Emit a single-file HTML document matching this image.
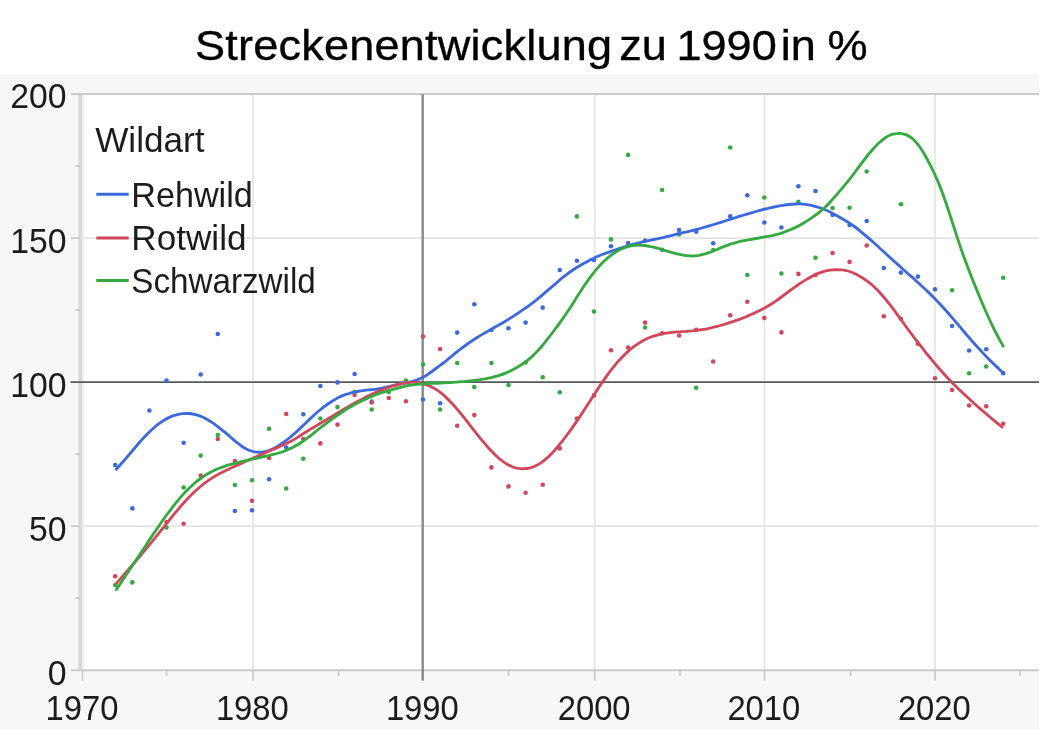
<!DOCTYPE html>
<html lang="de">
<head>
<meta charset="utf-8">
<title>Streckenentwicklung zu 1990 in %</title>
<style>
html,body{margin:0;padding:0;background:#fff;}
body{width:1056px;height:729px;overflow:hidden;position:relative;}
svg{display:block;position:absolute;left:0;top:0;}
.soft{filter:blur(0.55px);}
text{font-family:"Liberation Sans",sans-serif;fill:#1c1c1c;}
.ax{font-size:35.7px;}
.lg{font-size:35.7px;}
.ttl text{font-size:42.5px;fill:#000;stroke:#000;stroke-width:0.35px;}
</style>
</head>
<body>
<svg width="1056" height="729" viewBox="0 0 1056 729">
<rect x="0" y="0" width="1056" height="729" fill="#ffffff"/>
<rect x="0" y="74" width="1039" height="655" fill="#f7f7f7"/>
<rect x="82" y="94" width="957" height="576" fill="#ffffff"/>
<g class="ttl" transform="scale(1.0607,1)">
<text y="59.7"><tspan x="183.84" letter-spacing="0.2">Streckenentwicklung</tspan> <tspan x="583.77">zu</tspan> <tspan x="637.79">1990</tspan> <tspan x="736.12">in</tspan> <tspan x="780.15">%</tspan></text>
</g>
<g stroke="#e4e4e4" stroke-width="1.7" fill="none">
<line x1="253" y1="94" x2="253" y2="670"/><line x1="594.75" y1="94" x2="594.75" y2="670"/><line x1="764.5" y1="94" x2="764.5" y2="670"/><line x1="935" y1="94" x2="935" y2="670"/><line x1="82" y1="526.15" x2="1039" y2="526.15"/><line x1="82" y1="238.05" x2="1039" y2="238.05"/>
</g>
<rect x="78.3" y="93.2" width="3.9" height="577.6" fill="#dadada"/>
<rect x="82.2" y="94" width="1.6" height="576" fill="#ececec"/>
<g stroke="#cbcbcb" stroke-width="2" fill="none">
<line x1="71" y1="94.0" x2="1039" y2="94.0"/><line x1="71" y1="670.2" x2="1039" y2="670.2"/>
</g>
<g stroke="#c6c6c6" stroke-width="1.5" fill="none">
<line x1="71" y1="238.05" x2="80" y2="238.05"/><line x1="71" y1="526.15" x2="80" y2="526.15"/><line x1="75.5" y1="598.18" x2="80" y2="598.18"/><line x1="75.5" y1="454.13" x2="80" y2="454.13"/><line x1="75.5" y1="310.08" x2="80" y2="310.08"/><line x1="75.5" y1="166.02" x2="80" y2="166.02"/><line x1="82.5" y1="670.2" x2="82.5" y2="680.5"/><line x1="253" y1="670.2" x2="253" y2="680.5"/><line x1="423" y1="670.2" x2="423" y2="680.5"/><line x1="594.75" y1="670.2" x2="594.75" y2="680.5"/><line x1="764.5" y1="670.2" x2="764.5" y2="680.5"/><line x1="935" y1="670.2" x2="935" y2="680.5"/><line x1="166.5" y1="670.2" x2="166.5" y2="676"/><line x1="338.5" y1="670.2" x2="338.5" y2="676"/><line x1="508.5" y1="670.2" x2="508.5" y2="676"/><line x1="680" y1="670.2" x2="680" y2="676"/><line x1="850.5" y1="670.2" x2="850.5" y2="676"/><line x1="1020" y1="670.2" x2="1020" y2="676"/>
</g>
<line x1="422.7" y1="94" x2="422.7" y2="680.5" stroke="#8a8a8a" stroke-width="2.4"/>
<line x1="70.5" y1="382.10" x2="1039" y2="382.10" stroke="#585858" stroke-width="1.7"/>
<g class="soft">
<g fill="#3c6adc"><circle cx="115.2" cy="465.0" r="2.3"/><circle cx="132.3" cy="508.4" r="2.3"/><circle cx="149.4" cy="410.5" r="2.3"/><circle cx="166.5" cy="380.5" r="2.3"/><circle cx="183.6" cy="442.8" r="2.3"/><circle cx="200.7" cy="374.5" r="2.3"/><circle cx="217.8" cy="334.0" r="2.3"/><circle cx="234.9" cy="511.0" r="2.3"/><circle cx="252.0" cy="510.2" r="2.3"/><circle cx="269.1" cy="479.2" r="2.3"/><circle cx="286.2" cy="447.5" r="2.3"/><circle cx="303.3" cy="414.2" r="2.3"/><circle cx="320.4" cy="386.0" r="2.3"/><circle cx="337.5" cy="382.4" r="2.3"/><circle cx="354.6" cy="374.0" r="2.3"/><circle cx="371.7" cy="401.5" r="2.3"/><circle cx="423.0" cy="399.5" r="2.3"/><circle cx="440.1" cy="403.2" r="2.3"/><circle cx="457.2" cy="332.6" r="2.3"/><circle cx="474.3" cy="304.2" r="2.3"/><circle cx="491.4" cy="330.0" r="2.3"/><circle cx="508.5" cy="328.2" r="2.3"/><circle cx="525.6" cy="322.6" r="2.3"/><circle cx="542.7" cy="307.6" r="2.3"/><circle cx="559.8" cy="270.0" r="2.3"/><circle cx="576.9" cy="260.8" r="2.3"/><circle cx="594.0" cy="260.0" r="2.3"/><circle cx="611.0" cy="246.2" r="2.3"/><circle cx="628.1" cy="243.0" r="2.3"/><circle cx="645.1" cy="240.6" r="2.3"/><circle cx="662.1" cy="249.8" r="2.3"/><circle cx="679.1" cy="230.0" r="2.3"/><circle cx="696.2" cy="231.8" r="2.3"/><circle cx="713.2" cy="243.2" r="2.3"/><circle cx="730.2" cy="216.2" r="2.3"/><circle cx="747.3" cy="195.2" r="2.3"/><circle cx="764.3" cy="222.5" r="2.3"/><circle cx="781.4" cy="227.5" r="2.3"/><circle cx="798.4" cy="186.2" r="2.3"/><circle cx="815.5" cy="191.0" r="2.3"/><circle cx="832.6" cy="215.0" r="2.3"/><circle cx="849.6" cy="225.0" r="2.3"/><circle cx="866.7" cy="221.0" r="2.3"/><circle cx="883.8" cy="268.1" r="2.3"/><circle cx="900.9" cy="272.6" r="2.3"/><circle cx="917.9" cy="276.6" r="2.3"/><circle cx="935.0" cy="289.2" r="2.3"/><circle cx="952.1" cy="326.0" r="2.3"/><circle cx="969.1" cy="350.5" r="2.3"/><circle cx="986.2" cy="349.2" r="2.3"/><circle cx="1003.2" cy="373.2" r="2.3"/></g>
<g fill="#d2475c"><circle cx="115.2" cy="576.3" r="2.3"/><circle cx="166.5" cy="522.0" r="2.3"/><circle cx="183.6" cy="523.7" r="2.3"/><circle cx="200.7" cy="475.5" r="2.3"/><circle cx="217.8" cy="439.0" r="2.3"/><circle cx="234.9" cy="461.0" r="2.3"/><circle cx="252.0" cy="500.8" r="2.3"/><circle cx="269.1" cy="458.0" r="2.3"/><circle cx="286.2" cy="414.0" r="2.3"/><circle cx="303.3" cy="439.0" r="2.3"/><circle cx="320.4" cy="443.4" r="2.3"/><circle cx="337.5" cy="424.6" r="2.3"/><circle cx="354.6" cy="395.0" r="2.3"/><circle cx="371.7" cy="402.5" r="2.3"/><circle cx="388.8" cy="398.0" r="2.3"/><circle cx="405.9" cy="401.2" r="2.3"/><circle cx="423.0" cy="336.5" r="2.3"/><circle cx="440.1" cy="349.0" r="2.3"/><circle cx="457.2" cy="425.8" r="2.3"/><circle cx="474.3" cy="415.1" r="2.3"/><circle cx="491.4" cy="467.4" r="2.3"/><circle cx="508.5" cy="486.4" r="2.3"/><circle cx="525.6" cy="492.7" r="2.3"/><circle cx="542.7" cy="484.7" r="2.3"/><circle cx="559.8" cy="448.4" r="2.3"/><circle cx="576.9" cy="418.5" r="2.3"/><circle cx="594.0" cy="395.4" r="2.3"/><circle cx="611.0" cy="350.2" r="2.3"/><circle cx="628.1" cy="347.5" r="2.3"/><circle cx="645.1" cy="322.6" r="2.3"/><circle cx="662.1" cy="333.2" r="2.3"/><circle cx="679.1" cy="335.5" r="2.3"/><circle cx="696.2" cy="329.8" r="2.3"/><circle cx="713.2" cy="361.5" r="2.3"/><circle cx="730.2" cy="315.2" r="2.3"/><circle cx="747.3" cy="301.8" r="2.3"/><circle cx="764.3" cy="318.0" r="2.3"/><circle cx="781.4" cy="332.4" r="2.3"/><circle cx="798.4" cy="273.9" r="2.3"/><circle cx="815.5" cy="275.0" r="2.3"/><circle cx="832.6" cy="253.0" r="2.3"/><circle cx="849.6" cy="261.9" r="2.3"/><circle cx="866.7" cy="245.5" r="2.3"/><circle cx="883.8" cy="316.2" r="2.3"/><circle cx="900.9" cy="318.8" r="2.3"/><circle cx="917.9" cy="343.8" r="2.3"/><circle cx="935.0" cy="378.2" r="2.3"/><circle cx="952.1" cy="390.0" r="2.3"/><circle cx="969.1" cy="405.5" r="2.3"/><circle cx="986.2" cy="406.2" r="2.3"/><circle cx="1003.2" cy="423.8" r="2.3"/></g>
<g fill="#36aa41"><circle cx="115.2" cy="585.1" r="2.3"/><circle cx="132.3" cy="582.4" r="2.3"/><circle cx="166.5" cy="527.6" r="2.3"/><circle cx="183.6" cy="487.5" r="2.3"/><circle cx="200.7" cy="455.6" r="2.3"/><circle cx="217.8" cy="435.1" r="2.3"/><circle cx="234.9" cy="485.0" r="2.3"/><circle cx="252.0" cy="480.2" r="2.3"/><circle cx="269.1" cy="428.8" r="2.3"/><circle cx="286.2" cy="488.5" r="2.3"/><circle cx="303.3" cy="458.8" r="2.3"/><circle cx="320.4" cy="418.5" r="2.3"/><circle cx="337.5" cy="407.1" r="2.3"/><circle cx="354.6" cy="392.0" r="2.3"/><circle cx="371.7" cy="409.5" r="2.3"/><circle cx="388.8" cy="392.0" r="2.3"/><circle cx="405.9" cy="380.5" r="2.3"/><circle cx="423.0" cy="364.5" r="2.3"/><circle cx="440.1" cy="409.5" r="2.3"/><circle cx="457.2" cy="363.0" r="2.3"/><circle cx="474.3" cy="387.0" r="2.3"/><circle cx="491.4" cy="363.0" r="2.3"/><circle cx="508.5" cy="385.0" r="2.3"/><circle cx="525.6" cy="362.5" r="2.3"/><circle cx="542.7" cy="377.2" r="2.3"/><circle cx="559.8" cy="392.2" r="2.3"/><circle cx="576.9" cy="216.4" r="2.3"/><circle cx="594.0" cy="311.5" r="2.3"/><circle cx="611.0" cy="239.4" r="2.3"/><circle cx="628.1" cy="154.9" r="2.3"/><circle cx="645.1" cy="327.5" r="2.3"/><circle cx="662.1" cy="190.0" r="2.3"/><circle cx="679.1" cy="234.4" r="2.3"/><circle cx="696.2" cy="387.8" r="2.3"/><circle cx="713.2" cy="250.0" r="2.3"/><circle cx="730.2" cy="147.5" r="2.3"/><circle cx="747.3" cy="275.0" r="2.3"/><circle cx="764.3" cy="197.5" r="2.3"/><circle cx="781.4" cy="273.5" r="2.3"/><circle cx="798.4" cy="201.8" r="2.3"/><circle cx="815.5" cy="257.8" r="2.3"/><circle cx="832.6" cy="208.0" r="2.3"/><circle cx="849.6" cy="207.8" r="2.3"/><circle cx="866.7" cy="171.5" r="2.3"/><circle cx="900.9" cy="204.2" r="2.3"/><circle cx="952.1" cy="290.2" r="2.3"/><circle cx="969.1" cy="373.2" r="2.3"/><circle cx="986.2" cy="366.5" r="2.3"/><circle cx="1003.2" cy="277.8" r="2.3"/></g>
<path d="M116.3 469.2C117.3 468.1 120.3 464.8 122.3 462.5C124.3 460.2 126.3 458.0 128.3 455.6C130.3 453.3 132.3 450.9 134.3 448.5C136.3 446.1 138.3 443.7 140.3 441.5C142.3 439.2 144.3 437.0 146.3 434.9C148.3 432.9 150.3 431.0 152.3 429.2C154.3 427.4 156.3 425.7 158.3 424.2C160.3 422.7 162.3 421.3 164.4 420.0C166.4 418.8 168.4 417.8 170.4 416.9C172.4 416.1 174.4 415.4 176.4 414.9C178.4 414.3 180.4 413.9 182.4 413.7C184.4 413.5 186.4 413.4 188.4 413.5C190.4 413.6 192.4 413.9 194.4 414.3C196.4 414.8 198.4 415.4 200.4 416.1C202.4 416.9 204.4 417.8 206.4 418.9C208.4 420.0 210.4 421.3 212.4 422.6C214.4 424.0 216.4 425.5 218.4 427.1C220.4 428.6 222.4 430.2 224.4 431.8C226.4 433.5 228.4 435.3 230.4 437.0C232.4 438.7 234.4 440.6 236.4 442.2C238.4 443.8 240.4 445.4 242.4 446.7C244.4 448.0 246.4 449.1 248.4 450.0C250.4 450.8 252.4 451.4 254.4 451.8C256.5 452.2 258.5 452.3 260.5 452.2C262.5 452.1 264.5 451.8 266.5 451.3C268.5 450.8 270.5 450.0 272.5 449.0C274.5 448.1 276.5 446.9 278.5 445.7C280.5 444.5 282.5 443.1 284.5 441.7C286.5 440.2 288.5 438.6 290.5 437.0C292.5 435.3 294.5 433.5 296.5 431.7C298.5 429.9 300.5 428.0 302.5 426.1C304.5 424.2 306.5 422.3 308.5 420.4C310.5 418.5 312.5 416.5 314.5 414.7C316.5 412.9 318.5 411.1 320.5 409.5C322.5 407.9 324.5 406.4 326.5 405.0C328.5 403.5 330.5 402.2 332.5 401.0C334.5 399.8 336.5 398.6 338.5 397.6C340.5 396.6 342.5 395.7 344.5 394.9C346.5 394.2 348.5 393.6 350.6 393.0C352.6 392.5 354.6 392.0 356.6 391.6C358.6 391.3 360.6 390.9 362.6 390.7C364.6 390.4 366.6 390.1 368.6 389.9C370.6 389.7 372.6 389.6 374.6 389.3C376.6 389.1 378.6 388.9 380.6 388.5C382.6 388.1 384.6 387.6 386.6 387.1C388.6 386.7 390.6 386.1 392.6 385.6C394.6 385.2 396.6 384.8 398.6 384.4C400.6 384.0 402.6 383.6 404.6 383.2C406.6 382.7 408.6 382.3 410.6 381.8C412.6 381.3 414.6 380.8 416.6 380.1C418.6 379.4 420.6 378.6 422.6 377.6C424.6 376.5 426.6 375.2 428.6 373.8C430.6 372.5 432.6 371.0 434.6 369.5C436.6 368.0 438.6 366.6 440.6 365.0C442.6 363.5 444.7 361.9 446.7 360.3C448.7 358.6 450.7 356.9 452.7 355.3C454.7 353.6 456.7 352.0 458.7 350.5C460.7 348.9 462.7 347.4 464.7 346.0C466.7 344.5 468.7 343.1 470.7 341.8C472.7 340.4 474.7 339.1 476.7 337.8C478.7 336.5 480.7 335.3 482.7 334.1C484.7 332.9 486.7 331.8 488.7 330.7C490.7 329.5 492.7 328.5 494.7 327.3C496.7 326.2 498.7 325.1 500.7 324.0C502.7 322.8 504.7 321.6 506.7 320.4C508.7 319.2 510.7 317.9 512.7 316.6C514.7 315.3 516.7 314.0 518.7 312.7C520.7 311.3 522.7 310.0 524.7 308.6C526.7 307.2 528.7 305.9 530.7 304.4C532.7 302.9 534.7 301.3 536.8 299.6C538.8 298.0 540.8 296.3 542.8 294.6C544.8 292.8 546.8 291.1 548.8 289.4C550.8 287.7 552.8 286.0 554.8 284.3C556.8 282.6 558.8 280.8 560.8 279.1C562.8 277.5 564.8 275.8 566.8 274.3C568.8 272.8 570.8 271.4 572.8 270.0C574.8 268.7 576.8 267.4 578.8 266.2C580.8 265.0 582.8 263.8 584.8 262.7C586.8 261.7 588.8 260.6 590.8 259.6C592.8 258.7 594.8 257.7 596.8 256.8C598.8 256.0 600.8 255.1 602.8 254.3C604.8 253.5 606.8 252.8 608.8 252.1C610.8 251.4 612.8 250.7 614.8 250.1C616.8 249.4 618.8 248.7 620.8 248.1C622.8 247.5 624.8 246.8 626.8 246.2C628.8 245.6 630.9 245.0 632.9 244.4C634.9 243.9 636.9 243.3 638.9 242.8C640.9 242.3 642.9 241.8 644.9 241.4C646.9 240.9 648.9 240.5 650.9 240.1C652.9 239.7 654.9 239.3 656.9 238.9C658.9 238.5 660.9 238.1 662.9 237.7C664.9 237.2 666.9 236.7 668.9 236.2C670.9 235.7 672.9 235.2 674.9 234.6C676.9 234.1 678.9 233.6 680.9 233.1C682.9 232.7 684.9 232.2 686.9 231.8C688.9 231.3 690.9 230.8 692.9 230.3C694.9 229.9 696.9 229.3 698.9 228.8C700.9 228.3 702.9 227.7 704.9 227.2C706.9 226.6 708.9 226.0 710.9 225.4C712.9 224.8 714.9 224.2 716.9 223.5C718.9 222.9 720.9 222.2 722.9 221.6C725.0 221.0 727.0 220.3 729.0 219.7C731.0 219.0 733.0 218.4 735.0 217.8C737.0 217.1 739.0 216.5 741.0 215.9C743.0 215.3 745.0 214.7 747.0 214.1C749.0 213.5 751.0 212.9 753.0 212.4C755.0 211.8 757.0 211.2 759.0 210.6C761.0 210.1 763.0 209.5 765.0 209.0C767.0 208.5 769.0 208.1 771.0 207.6C773.0 207.2 775.0 206.8 777.0 206.4C779.0 206.0 781.0 205.7 783.0 205.4C785.0 205.0 787.0 204.8 789.0 204.5C791.0 204.3 793.0 204.1 795.0 204.0C797.0 203.9 799.0 203.8 801.0 203.9C803.0 204.0 805.0 204.3 807.0 204.6C809.0 204.9 811.0 205.3 813.0 205.8C815.0 206.3 817.1 206.9 819.1 207.5C821.1 208.2 823.1 208.8 825.1 209.7C827.1 210.5 829.1 211.4 831.1 212.5C833.1 213.5 835.1 214.7 837.1 215.8C839.1 216.9 841.1 218.1 843.1 219.3C845.1 220.4 847.1 221.6 849.1 222.9C851.1 224.2 853.1 225.5 855.1 227.0C857.1 228.5 859.1 230.1 861.1 231.8C863.1 233.4 865.1 235.1 867.1 236.8C869.1 238.5 871.1 240.3 873.1 242.0C875.1 243.8 877.1 245.7 879.1 247.5C881.1 249.3 883.1 251.2 885.1 253.0C887.1 254.9 889.1 256.7 891.1 258.5C893.1 260.3 895.1 262.1 897.1 263.9C899.1 265.7 901.1 267.5 903.1 269.3C905.1 271.1 907.1 272.9 909.1 274.7C911.2 276.4 913.2 278.2 915.2 280.0C917.2 281.8 919.2 283.7 921.2 285.5C923.2 287.4 925.2 289.2 927.2 291.1C929.2 293.0 931.2 295.0 933.2 297.0C935.2 299.0 937.2 301.1 939.2 303.2C941.2 305.4 943.2 307.6 945.2 309.8C947.2 312.0 949.2 314.3 951.2 316.6C953.2 318.9 955.2 321.2 957.2 323.6C959.2 325.9 961.2 328.4 963.2 330.7C965.2 333.1 967.2 335.4 969.2 337.7C971.2 340.0 973.2 342.3 975.2 344.5C977.2 346.8 979.2 349.0 981.2 351.1C983.2 353.3 985.2 355.4 987.2 357.4C989.2 359.5 991.2 361.5 993.2 363.4C995.2 365.4 997.6 367.6 999.2 369.2C1000.9 370.8 1002.6 372.4 1003.2 373.0" fill="none" stroke="#3c6adc" stroke-width="2.85" stroke-linecap="round" stroke-linejoin="round"/>
<path d="M116.5 583.2C117.5 582.1 120.5 578.6 122.5 576.4C124.5 574.1 126.5 571.8 128.5 569.5C130.5 567.2 132.5 564.9 134.5 562.5C136.5 560.2 138.5 557.9 140.5 555.5C142.5 553.1 144.5 550.7 146.5 548.3C148.5 545.9 150.5 543.5 152.5 541.1C154.5 538.6 156.5 536.2 158.5 533.7C160.5 531.2 162.5 528.7 164.5 526.2C166.5 523.7 168.5 521.1 170.5 518.6C172.5 516.2 174.5 513.7 176.5 511.3C178.5 508.9 180.5 506.5 182.5 504.3C184.5 502.0 186.5 499.8 188.5 497.8C190.5 495.7 192.5 493.7 194.5 491.8C196.5 489.9 198.5 488.2 200.5 486.5C202.5 484.9 204.5 483.3 206.4 481.9C208.4 480.4 210.4 479.1 212.4 477.9C214.4 476.6 216.4 475.4 218.4 474.3C220.4 473.2 222.4 472.2 224.4 471.2C226.4 470.2 228.4 469.2 230.4 468.3C232.4 467.3 234.4 466.5 236.4 465.6C238.4 464.7 240.4 463.8 242.4 462.9C244.4 462.0 246.4 461.1 248.4 460.3C250.4 459.4 252.4 458.5 254.4 457.6C256.4 456.7 258.4 455.8 260.4 454.9C262.4 454.1 264.4 453.2 266.4 452.3C268.4 451.4 270.4 450.5 272.4 449.7C274.4 448.8 276.4 448.0 278.4 447.1C280.4 446.2 282.4 445.4 284.4 444.5C286.4 443.6 288.4 442.7 290.4 441.6C292.4 440.5 294.4 439.3 296.4 438.1C298.4 436.8 300.4 435.5 302.4 434.2C304.4 432.9 306.4 431.7 308.4 430.5C310.4 429.2 312.4 428.1 314.4 426.9C316.4 425.7 318.4 424.5 320.4 423.3C322.4 422.1 324.4 420.9 326.4 419.7C328.4 418.5 330.4 417.3 332.4 416.1C334.4 414.9 336.4 413.7 338.4 412.5C340.4 411.3 342.4 410.1 344.4 408.9C346.4 407.7 348.4 406.5 350.4 405.4C352.4 404.3 354.4 403.1 356.4 402.0C358.4 400.9 360.4 399.9 362.4 398.9C364.4 397.8 366.4 396.8 368.4 395.9C370.4 394.9 372.4 394.0 374.4 393.1C376.4 392.2 378.4 391.3 380.4 390.5C382.3 389.7 384.3 388.9 386.3 388.1C388.3 387.4 390.3 386.7 392.3 386.1C394.3 385.5 396.3 385.0 398.3 384.5C400.3 384.0 402.3 383.6 404.3 383.2C406.3 382.9 408.3 382.4 410.3 382.3C412.3 382.1 414.3 382.1 416.3 382.3C418.3 382.5 420.3 382.9 422.3 383.5C424.3 384.0 426.3 384.7 428.3 385.5C430.3 386.3 432.3 387.3 434.3 388.4C436.3 389.6 438.3 390.9 440.3 392.4C442.3 393.9 444.3 395.7 446.3 397.6C448.3 399.4 450.3 401.6 452.3 403.7C454.3 405.9 456.3 408.2 458.3 410.6C460.3 412.9 462.3 415.4 464.3 417.9C466.3 420.5 468.3 423.1 470.3 425.7C472.3 428.3 474.3 430.8 476.3 433.3C478.3 435.8 480.3 438.3 482.3 440.7C484.3 443.1 486.3 445.5 488.3 447.7C490.3 449.9 492.3 452.0 494.3 454.0C496.3 456.0 498.3 457.9 500.3 459.5C502.3 461.1 504.3 462.6 506.3 463.8C508.3 465.0 510.3 466.0 512.3 466.8C514.3 467.5 516.3 468.1 518.3 468.4C520.3 468.7 522.3 468.8 524.3 468.7C526.3 468.6 528.3 468.3 530.3 467.8C532.3 467.3 534.3 466.5 536.3 465.5C538.3 464.5 540.3 463.3 542.3 461.9C544.3 460.4 546.3 458.7 548.3 456.9C550.3 455.0 552.3 453.0 554.3 450.8C556.3 448.6 558.3 446.2 560.2 443.7C562.2 441.3 564.2 438.7 566.2 436.0C568.2 433.3 570.2 430.6 572.2 427.8C574.2 425.0 576.2 422.1 578.2 419.1C580.2 416.2 582.2 413.2 584.2 410.1C586.2 407.0 588.2 403.9 590.2 400.8C592.2 397.7 594.2 394.6 596.2 391.5C598.2 388.4 600.2 385.4 602.2 382.4C604.2 379.5 606.2 376.6 608.2 373.9C610.2 371.1 612.2 368.5 614.2 366.1C616.2 363.6 618.2 361.3 620.2 359.2C622.2 357.0 624.2 354.9 626.2 353.1C628.2 351.2 630.2 349.4 632.2 347.9C634.2 346.3 636.2 344.9 638.2 343.6C640.2 342.3 642.2 341.1 644.2 340.0C646.2 339.0 648.2 338.1 650.2 337.3C652.2 336.5 654.2 335.9 656.2 335.3C658.2 334.7 660.2 334.3 662.2 333.8C664.2 333.4 666.2 333.1 668.2 332.8C670.2 332.5 672.2 332.4 674.2 332.2C676.2 332.0 678.2 331.8 680.2 331.7C682.2 331.5 684.2 331.4 686.2 331.3C688.2 331.1 690.2 331.0 692.2 330.9C694.2 330.7 696.2 330.5 698.2 330.2C700.2 329.9 702.2 329.6 704.2 329.3C706.2 329.0 708.2 328.6 710.2 328.1C712.2 327.7 714.2 327.2 716.2 326.7C718.2 326.2 720.2 325.6 722.2 325.0C724.2 324.4 726.2 323.8 728.2 323.2C730.2 322.5 732.2 321.9 734.2 321.2C736.2 320.5 738.1 319.8 740.1 319.1C742.1 318.3 744.1 317.6 746.1 316.8C748.1 315.9 750.1 315.1 752.1 314.1C754.1 313.2 756.1 312.3 758.1 311.3C760.1 310.3 762.1 309.2 764.1 308.2C766.1 307.1 768.1 306.0 770.1 304.8C772.1 303.6 774.1 302.2 776.1 300.9C778.1 299.5 780.1 298.0 782.1 296.5C784.1 295.0 786.1 293.5 788.1 292.0C790.1 290.5 792.1 289.0 794.1 287.6C796.1 286.2 798.1 284.8 800.1 283.4C802.1 282.1 804.1 280.8 806.1 279.6C808.1 278.4 810.1 277.3 812.1 276.2C814.1 275.2 816.1 274.2 818.1 273.4C820.1 272.6 822.1 271.9 824.1 271.3C826.1 270.8 828.1 270.4 830.1 270.1C832.1 269.8 834.1 269.7 836.1 269.6C838.1 269.6 840.1 269.6 842.1 269.8C844.1 270.0 846.1 270.4 848.1 271.0C850.1 271.6 852.1 272.4 854.1 273.3C856.1 274.3 858.1 275.4 860.1 276.6C862.1 277.7 864.1 279.0 866.1 280.4C868.1 281.8 870.1 283.3 872.1 285.0C874.1 286.8 876.1 288.7 878.1 290.8C880.1 292.9 882.1 295.2 884.1 297.5C886.1 299.9 888.1 302.3 890.1 304.9C892.1 307.4 894.1 310.1 896.1 312.8C898.1 315.6 900.1 318.5 902.1 321.2C904.1 324.0 906.1 326.8 908.1 329.5C910.1 332.1 912.1 334.8 914.0 337.4C916.0 340.0 918.0 342.6 920.0 345.1C922.0 347.7 924.0 350.2 926.0 352.8C928.0 355.3 930.0 357.7 932.0 360.2C934.0 362.6 936.0 364.9 938.0 367.2C940.0 369.5 942.0 371.8 944.0 374.0C946.0 376.2 948.0 378.3 950.0 380.4C952.0 382.5 954.0 384.5 956.0 386.5C958.0 388.5 960.0 390.4 962.0 392.3C964.0 394.2 966.0 396.0 968.0 397.8C970.0 399.7 972.0 401.5 974.0 403.3C976.0 405.1 978.0 406.8 980.0 408.6C982.0 410.3 984.0 412.0 986.0 413.7C988.0 415.4 990.0 417.1 992.0 418.8C994.0 420.4 996.3 422.3 998.0 423.7C999.7 425.1 1001.3 426.5 1002.0 427.0" fill="none" stroke="#d2475c" stroke-width="2.85" stroke-linecap="round" stroke-linejoin="round"/>
<path d="M116.4 589.5C117.4 588.0 120.4 583.5 122.4 580.4C124.4 577.4 126.4 574.5 128.4 571.5C130.4 568.5 132.4 565.5 134.4 562.5C136.4 559.5 138.4 556.5 140.4 553.5C142.4 550.5 144.4 547.5 146.4 544.5C148.4 541.4 150.4 538.4 152.4 535.4C154.4 532.5 156.4 529.5 158.4 526.6C160.4 523.7 162.4 520.8 164.4 518.0C166.4 515.2 168.4 512.4 170.5 509.8C172.5 507.1 174.5 504.5 176.5 502.1C178.5 499.6 180.5 497.3 182.5 495.1C184.5 492.8 186.5 490.7 188.5 488.8C190.5 486.8 192.5 485.0 194.5 483.2C196.5 481.5 198.5 480.0 200.5 478.5C202.5 477.1 204.5 475.7 206.5 474.5C208.5 473.3 210.5 472.2 212.5 471.2C214.5 470.2 216.5 469.3 218.5 468.5C220.5 467.7 222.5 467.0 224.5 466.3C226.5 465.6 228.5 465.0 230.5 464.4C232.5 463.9 234.5 463.3 236.5 462.8C238.5 462.3 240.5 461.9 242.5 461.4C244.5 460.9 246.5 460.5 248.5 460.0C250.5 459.6 252.5 459.1 254.5 458.7C256.5 458.2 258.5 457.8 260.5 457.3C262.5 456.9 264.5 456.5 266.5 456.0C268.5 455.5 270.5 455.1 272.5 454.6C274.6 454.1 276.6 453.6 278.6 453.0C280.6 452.4 282.6 451.8 284.6 451.0C286.6 450.2 288.6 449.3 290.6 448.4C292.6 447.4 294.6 446.4 296.6 445.2C298.6 444.1 300.6 442.9 302.6 441.5C304.6 440.2 306.6 438.7 308.6 437.2C310.6 435.7 312.6 434.0 314.6 432.4C316.6 430.8 318.6 429.2 320.6 427.6C322.6 426.1 324.6 424.6 326.6 423.1C328.6 421.6 330.6 420.2 332.6 418.7C334.6 417.3 336.6 415.9 338.6 414.5C340.6 413.2 342.6 411.9 344.6 410.6C346.6 409.3 348.6 408.1 350.6 406.9C352.6 405.8 354.6 404.6 356.6 403.6C358.6 402.5 360.6 401.4 362.6 400.5C364.6 399.5 366.6 398.5 368.6 397.6C370.6 396.8 372.6 395.9 374.6 395.1C376.6 394.3 378.7 393.6 380.7 392.9C382.7 392.3 384.7 391.6 386.7 391.1C388.7 390.5 390.7 389.9 392.7 389.4C394.7 388.8 396.7 388.3 398.7 387.8C400.7 387.3 402.7 386.8 404.7 386.3C406.7 385.9 408.7 385.4 410.7 385.1C412.7 384.7 414.7 384.5 416.7 384.3C418.7 384.1 420.7 383.9 422.7 383.8C424.7 383.7 426.7 383.6 428.7 383.5C430.7 383.4 432.7 383.3 434.7 383.2C436.7 383.2 438.7 383.1 440.7 383.0C442.7 382.9 444.7 382.8 446.7 382.7C448.7 382.6 450.7 382.5 452.7 382.3C454.7 382.2 456.7 382.1 458.7 381.9C460.7 381.8 462.7 381.6 464.7 381.5C466.7 381.3 468.7 381.1 470.7 380.9C472.7 380.7 474.7 380.5 476.7 380.2C478.7 379.9 480.7 379.6 482.8 379.2C484.8 378.9 486.8 378.5 488.8 378.1C490.8 377.7 492.8 377.3 494.8 376.7C496.8 376.2 498.8 375.6 500.8 374.9C502.8 374.2 504.8 373.4 506.8 372.6C508.8 371.7 510.8 370.7 512.8 369.7C514.8 368.6 516.8 367.5 518.8 366.3C520.8 365.1 522.8 363.8 524.8 362.3C526.8 360.9 528.8 359.3 530.8 357.6C532.8 355.8 534.8 353.9 536.8 351.8C538.8 349.7 540.8 347.4 542.8 345.0C544.8 342.6 546.8 340.0 548.8 337.4C550.8 334.9 552.8 332.2 554.8 329.5C556.8 326.8 558.8 324.1 560.8 321.3C562.8 318.5 564.8 315.7 566.8 312.7C568.8 309.8 570.8 306.8 572.8 303.7C574.8 300.5 576.8 297.2 578.8 294.1C580.8 291.0 582.8 287.8 584.8 284.8C586.9 281.9 588.9 279.1 590.9 276.4C592.9 273.8 594.9 271.2 596.9 268.9C598.9 266.5 600.9 264.3 602.9 262.3C604.9 260.4 606.9 258.6 608.9 256.9C610.9 255.3 612.9 253.8 614.9 252.5C616.9 251.2 618.9 250.1 620.9 249.1C622.9 248.2 624.9 247.4 626.9 246.8C628.9 246.2 630.9 245.8 632.9 245.5C634.9 245.2 636.9 245.1 638.9 245.1C640.9 245.1 642.9 245.3 644.9 245.5C646.9 245.8 648.9 246.2 650.9 246.6C652.9 247.0 654.9 247.5 656.9 248.0C658.9 248.6 660.9 249.2 662.9 249.8C664.9 250.4 666.9 251.0 668.9 251.6C670.9 252.2 672.9 252.8 674.9 253.3C676.9 253.8 678.9 254.3 680.9 254.7C682.9 255.1 684.9 255.5 686.9 255.7C688.9 255.9 691.0 256.1 693.0 256.0C695.0 256.0 697.0 255.7 699.0 255.4C701.0 255.0 703.0 254.5 705.0 253.9C707.0 253.3 709.0 252.6 711.0 251.9C713.0 251.1 715.0 250.3 717.0 249.5C719.0 248.6 721.0 247.7 723.0 246.9C725.0 246.1 727.0 245.3 729.0 244.6C731.0 243.9 733.0 243.3 735.0 242.8C737.0 242.2 739.0 241.7 741.0 241.2C743.0 240.8 745.0 240.4 747.0 240.1C749.0 239.7 751.0 239.4 753.0 239.0C755.0 238.7 757.0 238.3 759.0 238.0C761.0 237.6 763.0 237.3 765.0 236.9C767.0 236.5 769.0 236.2 771.0 235.8C773.0 235.4 775.0 235.0 777.0 234.4C779.0 233.9 781.0 233.3 783.0 232.6C785.0 231.9 787.0 231.2 789.0 230.3C791.0 229.5 793.0 228.6 795.1 227.6C797.1 226.7 799.1 225.6 801.1 224.5C803.1 223.4 805.1 222.2 807.1 220.9C809.1 219.7 811.1 218.3 813.1 216.9C815.1 215.5 817.1 214.0 819.1 212.4C821.1 210.7 823.1 209.0 825.1 207.2C827.1 205.3 829.1 203.2 831.1 201.0C833.1 198.8 835.1 196.4 837.1 194.1C839.1 191.7 841.1 189.4 843.1 187.0C845.1 184.6 847.1 182.3 849.1 179.8C851.1 177.3 853.1 174.7 855.1 172.0C857.1 169.4 859.1 166.5 861.1 163.9C863.1 161.2 865.1 158.5 867.1 156.0C869.1 153.5 871.1 151.2 873.1 149.0C875.1 146.8 877.1 144.7 879.1 142.8C881.1 141.0 883.1 139.2 885.1 137.8C887.1 136.5 889.1 135.5 891.1 134.7C893.1 134.0 895.1 133.6 897.1 133.5C899.2 133.3 901.2 133.4 903.2 133.8C905.2 134.3 907.2 135.0 909.2 136.2C911.2 137.4 913.2 139.0 915.2 141.2C917.2 143.3 919.2 146.0 921.2 149.0C923.2 152.0 925.2 155.5 927.2 159.2C929.2 162.9 931.2 166.8 933.2 171.0C935.2 175.2 937.2 179.6 939.2 184.6C941.2 189.5 943.2 195.0 945.2 200.7C947.2 206.4 949.2 212.6 951.2 218.7C953.2 224.8 955.2 231.3 957.2 237.4C959.2 243.4 961.2 249.4 963.2 255.0C965.2 260.6 967.2 265.7 969.2 270.9C971.2 276.1 973.2 281.1 975.2 286.1C977.2 291.1 979.2 296.0 981.2 300.8C983.2 305.5 985.2 310.1 987.2 314.5C989.2 319.0 991.2 323.2 993.2 327.3C995.2 331.4 997.6 335.8 999.2 339.0C1000.9 342.1 1002.6 345.0 1003.2 346.2" fill="none" stroke="#36aa41" stroke-width="2.85" stroke-linecap="round" stroke-linejoin="round"/>
</g>
<text class="ax" x="47.8" y="684.6" textLength="18.8" lengthAdjust="spacingAndGlyphs">0</text>
<text class="ax" x="29.1" y="540.6" textLength="37.5" lengthAdjust="spacingAndGlyphs">50</text>
<text class="ax" x="10.3" y="396.5" textLength="56.3" lengthAdjust="spacingAndGlyphs">100</text>
<text class="ax" x="10.3" y="252.5" textLength="56.3" lengthAdjust="spacingAndGlyphs">150</text>
<text class="ax" x="10.3" y="108.4" textLength="56.3" lengthAdjust="spacingAndGlyphs">200</text>
<text class="ax" x="45.5" y="719.8" textLength="72.9" lengthAdjust="spacingAndGlyphs">1970</text>
<text class="ax" x="215.9" y="719.8" textLength="72.9" lengthAdjust="spacingAndGlyphs">1980</text>
<text class="ax" x="385.9" y="719.8" textLength="72.9" lengthAdjust="spacingAndGlyphs">1990</text>
<text class="ax" x="557.7" y="719.8" textLength="72.9" lengthAdjust="spacingAndGlyphs">2000</text>
<text class="ax" x="727.4" y="719.8" textLength="72.9" lengthAdjust="spacingAndGlyphs">2010</text>
<text class="ax" x="897.9" y="719.8" textLength="72.9" lengthAdjust="spacingAndGlyphs">2020</text>
<text class="lg" x="95.2" y="152" textLength="109.4" lengthAdjust="spacingAndGlyphs">Wildart</text>
<line x1="96.3" y1="194.2" x2="128.7" y2="194.2" stroke="#3c6adc" stroke-width="3.0"/><text class="lg" x="131.3" y="206.8" textLength="121.5" lengthAdjust="spacingAndGlyphs">Rehwild</text>
<line x1="96.3" y1="238" x2="128.7" y2="238" stroke="#d2475c" stroke-width="3.0"/><text class="lg" x="131.3" y="250.3" textLength="115.2" lengthAdjust="spacingAndGlyphs">Rotwild</text>
<line x1="96.3" y1="280.6" x2="128.7" y2="280.6" stroke="#36aa41" stroke-width="3.0"/><text class="lg" x="131.3" y="292.9" textLength="184.5" lengthAdjust="spacingAndGlyphs">Schwarzwild</text>
</svg>
</body>
</html>
